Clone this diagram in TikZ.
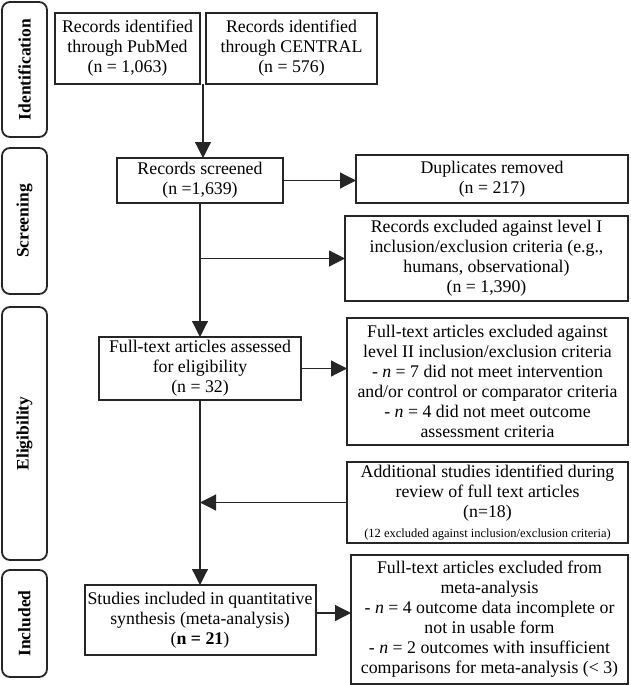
\documentclass[tikz,border=0pt]{standalone}
\usepackage{fontspec}
\setmainfont{Liberation Serif}
\usetikzlibrary{arrows.meta}
\begin{document}
\begin{tikzpicture}[x=1pt,y=-1pt,
  box/.style={draw=black!85, line width=2pt, inner sep=0pt, outer sep=0pt, align=center,
    font=\fontsize{17.8}{20}\selectfont},
  side/.style={draw=black!85, line width=1.8pt, rounded corners=8pt, inner sep=0pt, outer sep=0pt,
    minimum width=45pt},
  sidetext/.style={rotate=90, font=\bfseries\fontsize{17.5}{20}\selectfont},
  arr/.style={line width=1.2pt, draw=black!85, -{Triangle[length=16pt,width=16pt]}},
  ln/.style={line width=1.2pt, draw=black!85}]
\useasboundingbox (0,0) rectangle (630,685);

% side labels
\node[side, minimum height=135pt] (sid) at (24.5,69.5) {};
\node[sidetext] (tid) at (sid.center) {Identification};
\node[side, minimum height=146pt] (ssc) at (24.5,221) {};
\node[sidetext] (tsc) at (ssc.center) {Screening};
\node[side, minimum height=253pt] (sel) at (24.5,433.5) {};
\node[sidetext] (tel) at (sel.center) {Eligibility};
\node[side, minimum height=107pt] (sin) at (24.5,623.5) {};
\node[sidetext] (tin) at (sin.center) {Included};

% boxes
\node[box, minimum width=145pt, minimum height=71pt] (pub) at (127.5,48.5)
  {Records identified\\through PubMed\\(n = 1,063)};
\node[box, minimum width=171pt, minimum height=71pt] (cen) at (291.5,48.5)
  {Records identified\\through CENTRAL\\(n = 576)};
\node[box, minimum width=166pt, minimum height=45pt] (scr) at (200,180.5)
  {Records screened\\(n =1,639)};
\node[box, minimum width=272pt, minimum height=48pt] (dup) at (492,179)
  {Duplicates removed\\(n = 217)};
\node[box, minimum width=283pt, minimum height=85pt] (ex1) at (486.5,258.5)
  {Records excluded against level I\\inclusion/exclusion criteria (e.g.,\\humans, observational)\\(n = 1,390)};
\node[box, minimum width=202pt, minimum height=63pt] (ft) at (200,368.5)
  {Full-text articles assessed\\for eligibility\\(n = 32)};
\node[box, minimum width=281pt, minimum height=127pt] (fte) at (487.5,381.5)
  {Full-text articles excluded against\\level II inclusion/exclusion criteria\\- \textit{n} = 7 did not meet intervention\\and/or control or comparator criteria\\- \textit{n} = 4 did not meet outcome\\assessment criteria};
\node[box, minimum width=281pt, minimum height=81pt] (add) at (487.5,502.5)
  {Additional studies identified during\\review of full text articles\\(n=18)\\{\fontsize{12.5}{15}\selectfont (12 excluded against inclusion/exclusion criteria)}};
\node[box, minimum width=231pt, minimum height=70pt] (stu) at (200,620)
  {Studies included in quantitative\\synthesis (meta-analysis)\\(\textbf{n = 21})};
\node[box, minimum width=277pt, minimum height=129pt] (met) at (489.5,619.5)
  {Full-text articles excluded from\\meta-analysis\\- \textit{n} = 4 outcome data incomplete or\\not in usable form\\- \textit{n} = 2 outcomes with insufficient\\comparisons for meta-analysis (< 3)};

% connectors
\coordinate (j) at (203,84);
\draw[arr] (j) -- (j |- scr.north);
\draw[arr] (scr.east) -- (scr.east -| dup.west);
\draw[arr] (scr.south) -- (ft.north);
\draw[arr] (scr.south |- ex1.west) -- (ex1.west);
\draw[arr] (ft.east) -- (ft.east -| fte.west);
\draw[arr] (ft.south) -- (stu.north);
\draw[arr] (add.west) -- (add.west -| ft.south);
\draw[arr] ([yshift=7pt]stu.east) -- ([yshift=7pt]stu.east -| met.west);
\end{tikzpicture}
\end{document}
